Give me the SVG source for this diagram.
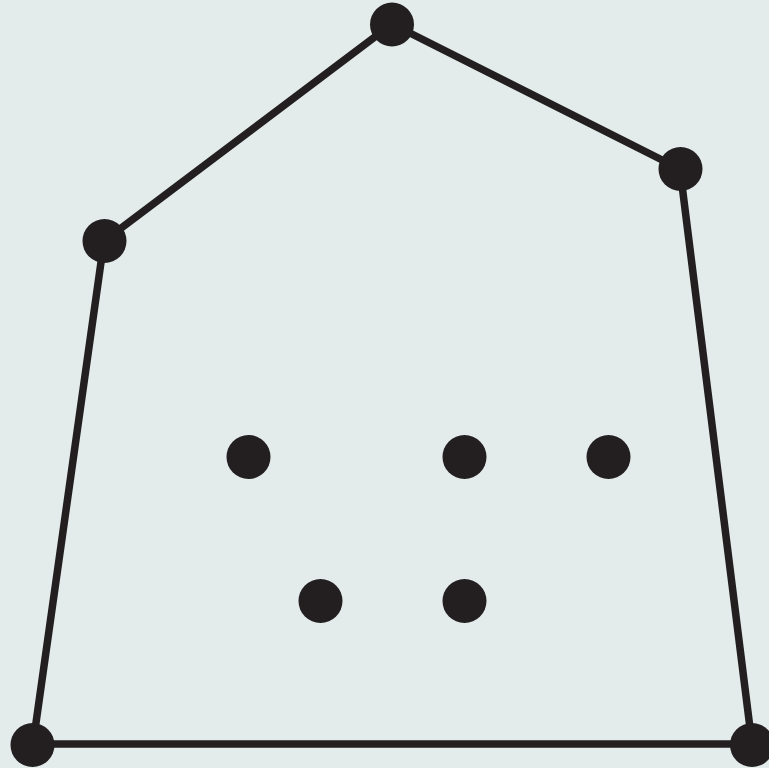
<svg xmlns="http://www.w3.org/2000/svg" width="769" height="768" viewBox="0 0 769 768">
<style>
.e{stroke:#231f20;stroke-width:7.5;fill:none;stroke-linejoin:round}
.p{fill:#231f20}
</style>
<rect width="769" height="768" fill="#e3ecea"/>
<g id="connectors">
<polyline class="e" points="33,744 104,241 392,24 680,169 752,744 33,744"/>
</g>
<g id="hull-top"><circle class="p" cx="392" cy="24.5" r="22"/></g>
<g id="hull-right"><circle class="p" cx="680.5" cy="169" r="22"/></g>
<g id="hull-left"><circle class="p" cx="104.5" cy="241" r="22"/></g>
<g id="hull-bottom-left"><circle class="p" cx="32.5" cy="745" r="22"/></g>
<g id="hull-bottom-right"><circle class="p" cx="752" cy="745" r="22"/></g>
<g id="p1"><circle class="p" cx="248.5" cy="457" r="22"/></g>
<g id="p2"><circle class="p" cx="464.5" cy="457" r="22"/></g>
<g id="p3"><circle class="p" cx="608.5" cy="457" r="22"/></g>
<g id="p4"><circle class="p" cx="320.5" cy="601" r="22"/></g>
<g id="p5"><circle class="p" cx="464.5" cy="601" r="22"/></g>
</svg>
